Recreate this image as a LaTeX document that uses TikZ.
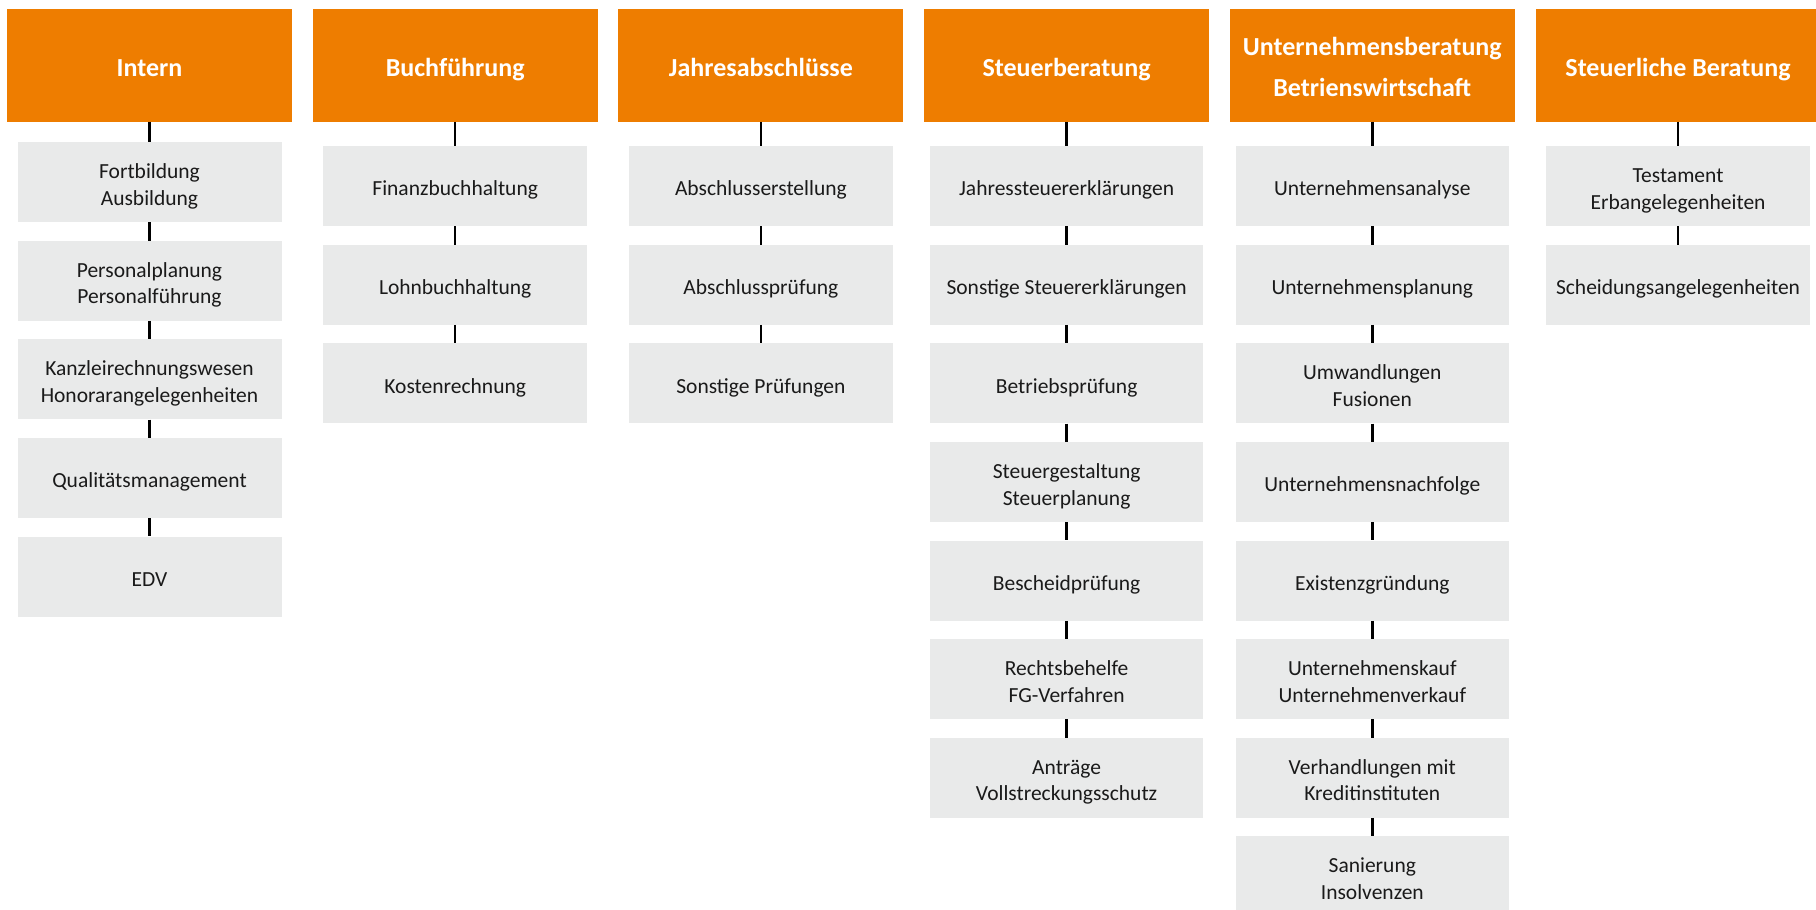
\documentclass[tikz,border=0pt]{standalone}
\usepackage{fontspec}
\setmainfont{Carlito}
\usepackage{xcolor}
\definecolor{kanzleiorange}{RGB}{238,125,0}
\definecolor{feldgrau}{RGB}{233,234,234}
\definecolor{schrift}{RGB}{26,26,26}
\usetikzlibrary{positioning}

\tikzset{
  head/.style={fill=kanzleiorange,text=white,minimum width=285pt,minimum height=112.5pt,
    inner sep=0pt,align=center,font=\fontsize{26}{40.5}\selectfont\bfseries,
    text height=27.5pt,text depth=6.5pt},
  head2/.style={head,text height=68pt},
  item/.style={fill=feldgrau,text=schrift,minimum width=264pt,minimum height=80pt,
    inner sep=0pt,align=center,font=\fontsize{21.5}{26.6}\selectfont,
    text height=24pt,text depth=4.4pt},
  item2/.style={item,text height=50.6pt},
  wideitem/.style={item,minimum width=273pt},
  wideitem2/.style={item2,minimum width=273pt},
  link/.style={line width=2.4pt,black},
}

\begin{document}
\begin{tikzpicture}[x=1pt,y=-1pt,node distance=18.2pt]
	\useasboundingbox (0,0) rectangle (1816,910);
	% Intern
	\node[head] (intern) at (149.5,65.5) {Intern};
	\node[item2,below=20pt of intern] (intern1) {Fortbildung\\Ausbildung};
	\node[item2,below=of intern1] (intern2) {Personalplanung\\Personalführung};
	\node[item2,below=of intern2] (intern3) {Kanzleirechnungswesen\\Honorarangelegenheiten};
	\node[item,below=of intern3] (intern4) {Qualitätsmanagement};
	\node[item,below=of intern4] (intern5) {EDV};
	\draw[link] (intern) -- (intern1) (intern1) -- (intern2) (intern2) -- (intern3)
		(intern3) -- (intern4) (intern4) -- (intern5);
	% Buchfuehrung
	\node[head] (buch) at (455.2,65.5) {Buchführung};
	\node[item,below=24pt of buch] (buch1) {Finanzbuchhaltung};
	\node[item,below=of buch1] (buch2) {Lohnbuchhaltung};
	\node[item,below=of buch2] (buch3) {Kostenrechnung};
	\draw[link] (buch) -- (buch1) (buch1) -- (buch2) (buch2) -- (buch3);
	% Jahresabschluesse
	\node[head] (jahr) at (760.9,65.5) {Jahresabschlüsse};
	\node[item,below=24pt of jahr] (jahr1) {Abschlusserstellung};
	\node[item,below=of jahr1] (jahr2) {Abschlussprüfung};
	\node[item,below=of jahr2] (jahr3) {Sonstige Prüfungen};
	\draw[link] (jahr) -- (jahr1) (jahr1) -- (jahr2) (jahr2) -- (jahr3);
	% Steuerberatung
	\node[head] (steuer) at (1066.6,65.5) {Steuerberatung};
	\node[wideitem,below=24pt of steuer] (steuer1) {Jahressteuererklärungen};
	\node[wideitem,below=of steuer1] (steuer2) {Sonstige Steuererklärungen};
	\node[wideitem,below=of steuer2] (steuer3) {Betriebsprüfung};
	\node[wideitem2,below=of steuer3] (steuer4) {Steuergestaltung\\Steuerplanung};
	\node[wideitem,below=of steuer4] (steuer5) {Bescheidprüfung};
	\node[wideitem2,below=of steuer5] (steuer6) {Rechtsbehelfe\\FG-Verfahren};
	\node[wideitem2,below=of steuer6] (steuer7) {Anträge\\Vollstreckungsschutz};
	\draw[link] (steuer) -- (steuer1) (steuer1) -- (steuer2) (steuer2) -- (steuer3)
		(steuer3) -- (steuer4) (steuer4) -- (steuer5) (steuer5) -- (steuer6)
		(steuer6) -- (steuer7);
	% Unternehmensberatung
	\node[head2] (unt) at (1372.3,65.5) {Unternehmensberatung\\Betrienswirtschaft};
	\node[wideitem,below=24pt of unt] (unt1) {Unternehmensanalyse};
	\node[wideitem,below=of unt1] (unt2) {Unternehmensplanung};
	\node[wideitem2,below=of unt2] (unt3) {Umwandlungen\\Fusionen};
	\node[wideitem,below=of unt3] (unt4) {Unternehmensnachfolge};
	\node[wideitem,below=of unt4] (unt5) {Existenzgründung};
	\node[wideitem2,below=of unt5] (unt6) {Unternehmenskauf\\Unternehmenverkauf};
	\node[wideitem2,below=of unt6] (unt7) {Verhandlungen mit\\Kreditinstituten};
	\node[wideitem2,below=of unt7] (unt8) {Sanierung\\Insolvenzen};
	\draw[link] (unt) -- (unt1) (unt1) -- (unt2) (unt2) -- (unt3) (unt3) -- (unt4)
		(unt4) -- (unt5) (unt5) -- (unt6) (unt6) -- (unt7) (unt7) -- (unt8);
	% Steuerliche Beratung
	\node[head] (erb) at (1678.0,65.5) {Steuerliche Beratung};
	\node[item2,below=24pt of erb] (erb1) {Testament\\Erbangelegenheiten};
	\node[item,below=of erb1] (erb2) {Scheidungsangelegenheiten};
	\draw[link] (erb) -- (erb1) (erb1) -- (erb2);
\end{tikzpicture}
\end{document}
